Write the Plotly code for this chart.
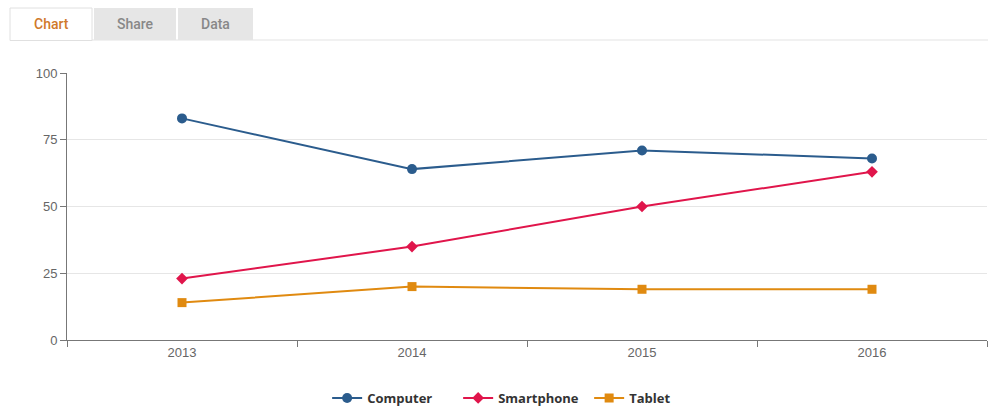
import plotly.graph_objects as go

years = ["2013", "2014", "2015", "2016"]
computer = [83, 64, 71, 68]
smartphone = [23, 35, 50, 63]
tablet = [14, 20, 19, 19]
y_ticks = [0, 25, 50, 75, 100]

W, H = 988, 410
L, R, T, B = 67, 1, 73, 70
PW = W - L - R
PH = H - T - B

def px(x):
    return (x - L) / PW

def py(y):
    return (H - B - y) / PH

fig = go.Figure()
fig.add_trace(go.Scatter(x=years, y=computer, name="Computer", mode="lines+markers",
                         line=dict(color="#2b5c8d", width=2),
                         marker=dict(symbol="circle", size=10, color="#2b5c8d")))
fig.add_trace(go.Scatter(x=years, y=smartphone, name="Smartphone", mode="lines+markers",
                         line=dict(color="#e0154b", width=2),
                         marker=dict(symbol="diamond", size=9, color="#e0154b")))
fig.add_trace(go.Scatter(x=years, y=tablet, name="Tablet", mode="lines+markers",
                         line=dict(color="#e08a10", width=2),
                         marker=dict(symbol="square", size=9, color="#e08a10")))

shapes = []
# tabs
shapes.append(dict(type="line", xref="paper", yref="paper", x0=px(10), x1=px(988), y0=py(40), y1=py(40),
                   line=dict(color="#e3e3e3", width=1)))
shapes.append(dict(type="rect", xref="paper", yref="paper", x0=px(10), x1=px(92), y0=py(40.5), y1=py(8),
                   fillcolor="white", line=dict(color="#e0e0e0", width=1)))
shapes.append(dict(type="rect", xref="paper", yref="paper", x0=px(94), x1=px(176), y0=py(40), y1=py(8),
                   fillcolor="#e6e6e6", line=dict(width=0)))
shapes.append(dict(type="rect", xref="paper", yref="paper", x0=px(178), x1=px(253), y0=py(40), y1=py(8),
                   fillcolor="#e6e6e6", line=dict(width=0)))
fig.update_layout(shapes=shapes)

annotations = []
for label, cx, col in [("Chart", 51, "#d0792a"), ("Share", 135, "#888888"), ("Data", 215, "#888888")]:
    annotations.append(dict(text=label, xref="paper", yref="paper", x=px(cx), y=py(24),
                            showarrow=False, xanchor="center", yanchor="middle",
                            font=dict(family="Roboto, Arial, sans-serif", size=14, color=col, weight=500)))
fig.update_layout(annotations=annotations)

fig.update_layout(
    width=W, height=H,
    margin=dict(l=L, r=R, t=T, b=B, autoexpand=False),
    plot_bgcolor="white", paper_bgcolor="white",
    font=dict(family="Arial, Liberation Sans, sans-serif", size=13, color="#666666"),
    showlegend=True,
    legend=dict(orientation="h", x=0.530, xanchor="center", xref="container",
                y=1 - 398 / H, yanchor="middle", yref="container",
                font=dict(family="Open Sans, DejaVu Sans, sans-serif", size=13, color="#333333", weight="bold"),
                itemwidth=30, tracegroupgap=0, entrywidth=86),
    xaxis=dict(type="category", range=[-0.5, 3.5], showgrid=False,
               showline=True, linecolor="#777777", linewidth=1,
               ticks="outside", ticklen=6, tickcolor="#777777", tickson="boundaries",
               tickfont=dict(size=13, color="#666666")),
    yaxis=dict(range=[0, 100], tickvals=y_ticks, showgrid=True, gridcolor="#e6e6e6",
               showline=True, linecolor="#777777", linewidth=1,
               ticks="outside", ticklen=6, tickcolor="#777777", zeroline=False,
               tickfont=dict(size=13, color="#666666")),
)

fig.write_html("out.html")
